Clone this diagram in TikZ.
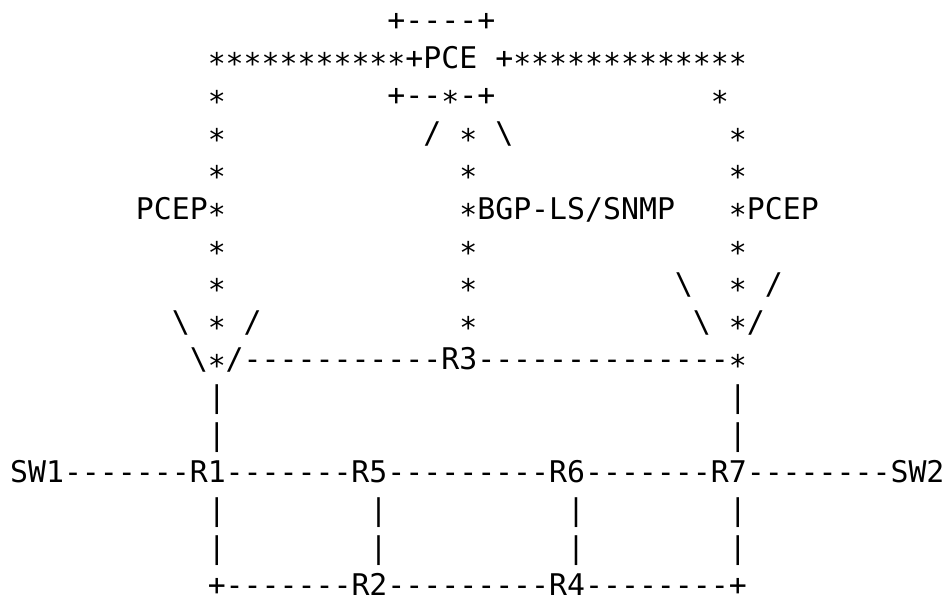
\documentclass[tikz,border=0pt]{standalone}
\usepackage{fontspec}
\setmonofont{DejaVu Sans Mono}[Ligatures=TeXOff]

\newcommand{\st}{\raisebox{-0.22em}{*}}
\newcommand{\bs}{\textbackslash}
\newcommand{\stars}[1]{\foreach \k in {1,...,#1}{\st}}

\begin{document}
\begin{tikzpicture}[x=8.985pt, y=18.85pt,
  ascii/.style={anchor=base west, inner sep=0pt, font=\ttfamily\fontsize{14.924pt}{18pt}\selectfont}]
\useasboundingbox (-0.54,-0.191) rectangle (52.16,-16.04);
% PCE box
\node[ascii] (boxtop) at (21,-1) {+----+};
\node[ascii] (pce) at (11,-2) {\stars{11}+PCE};
\node[ascii] (pceright) at (27,-2) {+\stars{13}};
\node[ascii] (boxbot) at (21,-3) {+--\st-+};
\node[ascii] (topl) at (11,-3) {\st};
\node[ascii] (topr) at (39,-3) {\st};
% star columns
\foreach \r in {4,5,7,8,9} \node[ascii] (l\r) at (11,-\r) {\st};
\foreach \r in {4,5,7,8,9} \node[ascii] (c\r) at (25,-\r) {\st};
\foreach \r in {4,5,7,8} \node[ascii] (r\r) at (40,-\r) {\st};
\node[ascii] (pcepl) at (7,-6) {PCEP\st};
\node[ascii] (bgp) at (25,-6) {\st BGP-LS/SNMP};
\node[ascii] (pcepr) at (40,-6) {\st PCEP};
% slashes
\node[ascii] (s4a) at (23,-4) {/};
\node[ascii] (s4b) at (27,-4) {\bs};
\node[ascii] (s8a) at (37,-8) {\bs};
\node[ascii] (s8b) at (42,-8) {/};
\node[ascii] (s9a) at (9,-9) {\bs};
\node[ascii] (s9b) at (13,-9) {/};
\node[ascii] (s9c) at (38,-9) {\bs};
\node[ascii] (s9d) at (40,-9) {\st/};
% routers
\node[ascii] (r3line) at (10,-10) {\bs\st/-----------R3--------------\st};
\foreach \r in {11,12} {
  \node[ascii] (bl\r) at (11,-\r) {|};
  \node[ascii] (br\r) at (40,-\r) {|};
}
\node[ascii] (mainline) at (0,-13) {SW1-------R1-------R5---------R6-------R7--------SW2};
\foreach \r in {14,15}
  \foreach \c in {11,20,31,40}
    \node[ascii] (b\r-\c) at (\c,-\r) {|};
\node[ascii] (botline) at (11,-16) {+-------R2---------R4--------+};
\end{tikzpicture}
\end{document}
